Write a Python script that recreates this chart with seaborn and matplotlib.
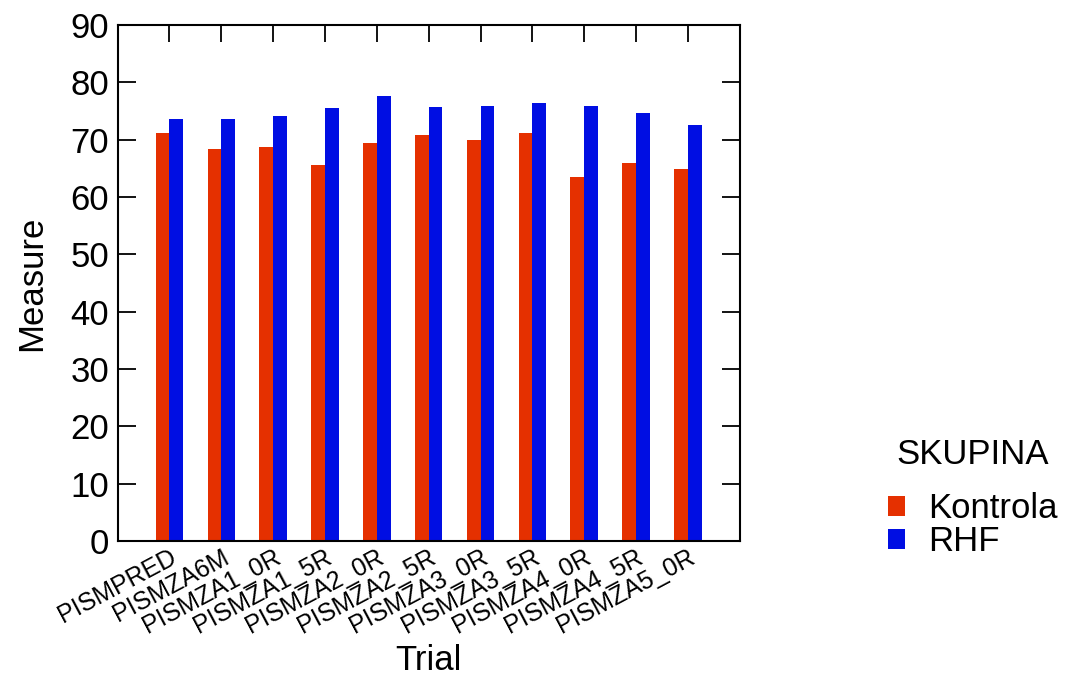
import matplotlib
matplotlib.use("Agg")
import matplotlib.pyplot as plt
import seaborn as sns
import pandas as pd

# data
trials = ["PISMPRED", "PISMZA6M", "PISMZA1_0R", "PISMZA1_5R", "PISMZA2_0R", "PISMZA2_5R",
          "PISMZA3_0R", "PISMZA3_5R", "PISMZA4_0R", "PISMZA4_5R", "PISMZA5_0R"]
kontrola = [71.1, 68.4, 68.7, 65.6, 69.4, 70.8, 70.0, 71.2, 63.5, 65.9, 64.9]
rhf = [73.7, 73.7, 74.1, 75.6, 77.7, 75.8, 75.9, 76.4, 75.9, 74.6, 72.5]
groups = ["Kontrola", "RHF"]
colors = ["#E53000", "#000EE3"]

df = pd.DataFrame({
    "Trial": trials * 2,
    "Measure": kontrola + rhf,
    "SKUPINA": [groups[0]] * len(trials) + [groups[1]] * len(trials),
})

sns.set_theme(style="white")
plt.rcParams["font.family"] = ["Liberation Sans", "DejaVu Sans"]
plt.rcParams.update({"text.color": "black", "axes.labelcolor": "black",
                     "xtick.color": "black", "ytick.color": "black"})

fig = plt.figure(figsize=(10.69, 6.79), dpi=100)
ax = fig.add_axes([0.110, 0.203, 0.582, 0.760])

sns.barplot(data=df, x="Trial", y="Measure", hue="SKUPINA", palette=colors,
            width=0.53, saturation=1, ax=ax, linewidth=0)

ax.set_ylim(0, 90)
ax.set_xlim(-1, 11)
ax.set_yticks(range(0, 91, 10))

for s in ax.spines.values():
    s.set_visible(True)
    s.set_color("black")
    s.set_linewidth(1.5)

ax.tick_params(axis="y", which="both", direction="in", length=13, width=1.3,
               left=True, right=True, labelsize=25, pad=6)
ax.tick_params(axis="x", which="both", direction="in", length=12, width=1.3,
               top=True, bottom=False, labelsize=18, pad=3)
ax.set_xticks(range(len(trials)))
ax.set_xticklabels(trials, rotation=28, ha="right", rotation_mode="anchor")

ax.set_xlabel("Trial", fontsize=25)
ax.xaxis.set_label_coords(0.5, -0.2)
ax.set_ylabel("Measure", fontsize=25, labelpad=16)

leg = ax.legend(title="SKUPINA", loc="upper left", bbox_to_anchor=(1.21, 0.233),
                frameon=False, fontsize=25, title_fontsize=25,
                handlelength=0.5, handleheight=0.5, handletextpad=0.65,
                labelspacing=0.0, borderpad=0)
leg._legend_box.sep = 15

fig.savefig("out.png", dpi=100)
